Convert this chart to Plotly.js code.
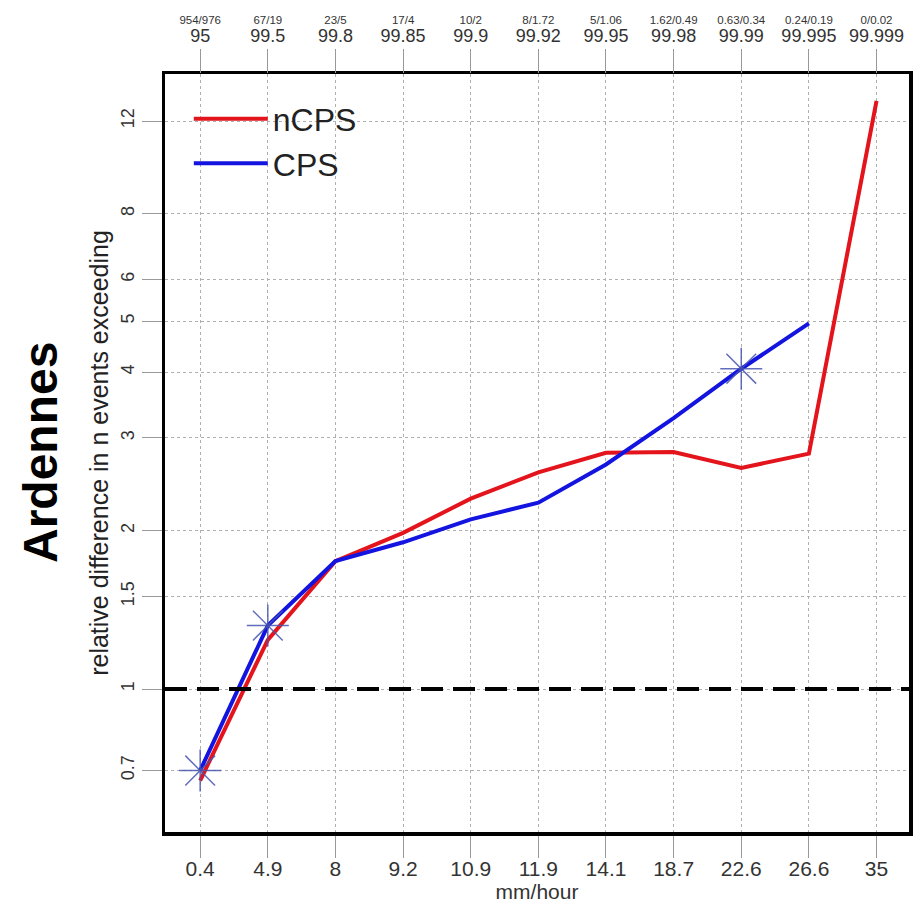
<!DOCTYPE html>
<html>
<head>
<meta charset="utf-8">
<script src="https://cdn.plot.ly/plotly-3.0.1.min.js"></script>
<style>
  html, body { margin: 0; padding: 0; background: #fff; }
  #chart { width: 914px; height: 908px; }
</style>
</head>
<body>
<div id="chart"></div>
<script>
// Bottom axis categories (mm/hour thresholds)
const mmHour = ['0.4', '4.9', '8', '9.2', '10.9', '11.9', '14.1', '18.7', '22.6', '26.6', '35'];
// Top axis: percentiles and event counts
const percentiles = ['95', '99.5', '99.8', '99.85', '99.9', '99.92', '99.95', '99.98', '99.99', '99.995', '99.999'];
const eventCounts = ['954/976', '67/19', '23/5', '17/4', '10/2', '8/1.72', '5/1.06', '1.62/0.49', '0.63/0.34', '0.24/0.19', '0/0.02'];
// Series values (relative difference)
const nCPS = [0.67, 1.24, 1.75, 1.98, 2.30, 2.58, 2.81, 2.82, 2.63, 2.80, 13.1];
const CPS  = [0.70, 1.32, 1.75, 1.90, 2.10, 2.26, 2.67, 3.27, 4.06, 4.95, null];
// Positions (category labels) marked with asterisks on the CPS line
const starCats = ['0.4', '4.9', '22.6'];
// Y tick values
const yTicks = [0.7, 1, 1.5, 2, 3, 4, 5, 6, 8, 12];
const refLevel = 1;

const FONT = 'Liberation Sans, Arial, Helvetica, sans-serif';
const idx = mmHour.map((_, i) => i);
const xRange = [-0.52, 10.48];

const starY = starCats.map(c => CPS[mmHour.indexOf(c)]);

const traces = [
  {
    x: mmHour, y: nCPS, name: 'nCPS', type: 'scatter', mode: 'lines',
    line: { color: '#e3141c', width: 4 }, xaxis: 'x', yaxis: 'y'
  },
  {
    x: mmHour, y: CPS, name: 'CPS', type: 'scatter', mode: 'lines',
    line: { color: '#1414e0', width: 4 }, xaxis: 'x', yaxis: 'y'
  },
  {
    x: starCats, y: starY, name: 'CPS markers', type: 'scatter', mode: 'markers',
    marker: { symbol: 'asterisk-open', size: 35, color: 'rgba(70,85,175,0.85)', line: { color: 'rgba(70,85,175,0.85)', width: 1.5 } },
    showlegend: false, xaxis: 'x', yaxis: 'y'
  },
  {
    x: idx, y: CPS, type: 'scatter', mode: 'lines', line: { width: 0 }, opacity: 0,
    showlegend: false, hoverinfo: 'skip', xaxis: 'x2', yaxis: 'y'
  },
  {
    x: idx, y: CPS, type: 'scatter', mode: 'lines', line: { width: 0 }, opacity: 0,
    showlegend: false, hoverinfo: 'skip', xaxis: 'x3', yaxis: 'y'
  }
];

const layout = {
  width: 914, height: 908,
  paper_bgcolor: '#fff', plot_bgcolor: '#fff',
  margin: { l: 165, r: 5, t: 74, b: 76 },
  font: { family: FONT, color: '#222' },
  showlegend: true,
  legend: {
    x: 0.032, y: 0.977, xanchor: 'left', yanchor: 'top',
    bgcolor: 'rgba(0,0,0,0)', borderwidth: 0,
    font: { family: FONT, size: 32, color: '#222' },
    itemwidth: 74, tracegroupgap: 0
  },
  xaxis: {
    type: 'category', categoryorder: 'array', categoryarray: mmHour,
    range: xRange,
    showgrid: true, gridcolor: '#b0b0b0', griddash: 'dot', gridwidth: 1,
    showline: true, linecolor: '#000', linewidth: 3.5, mirror: true,
    ticks: 'outside', ticklen: 22, tickcolor: '#999', tickwidth: 1,
    tickfont: { family: FONT, size: 21, color: '#333' },
    ticklabelstandoff: -7,
    title: { text: 'mm/hour', font: { family: FONT, size: 21, color: '#333' }, standoff: 5 },
    zeroline: false, automargin: false
  },
  xaxis2: {
    overlaying: 'x', side: 'top', anchor: 'y',
    range: xRange, tickmode: 'array', tickvals: idx, ticktext: percentiles,
    showgrid: false, showline: false, zeroline: false,
    ticks: 'outside', ticklen: 24, tickcolor: '#999', tickwidth: 1,
    tickfont: { family: FONT, size: 18, color: '#333' },
    automargin: false
  },
  xaxis3: {
    overlaying: 'x', side: 'top', anchor: 'y',
    range: xRange, tickmode: 'array', tickvals: idx, ticktext: eventCounts,
    showgrid: false, showline: false, zeroline: false,
    ticks: 'outside', ticklen: 24, tickcolor: '#999', tickwidth: 1,
    tickfont: { family: FONT, size: 11.5, color: '#333' },
    ticklabelstandoff: 20,
    automargin: false
  },
  yaxis: {
    type: 'log', range: [-0.2717, 1.1685],
    tickmode: 'array', tickvals: yTicks, ticktext: yTicks.map(String),
    tickangle: -90,
    showgrid: true, gridcolor: '#b0b0b0', griddash: 'dot', gridwidth: 1,
    showline: true, linecolor: '#000', linewidth: 3.5, mirror: true,
    ticks: 'outside', ticklen: 20, tickcolor: '#999', tickwidth: 1,
    tickfont: { family: FONT, size: 18, color: '#333' },
    title: { text: 'relative difference in n events exceeding', font: { family: FONT, size: 25, color: '#222' }, standoff: 3 },
    zeroline: false, automargin: false
  },
  shapes: [
    {
      type: 'line', xref: 'paper', yref: 'y', x0: 0, x1: 1, y0: refLevel, y1: refLevel,
      line: { color: '#000', width: 4, dash: '22px,10px' }, layer: 'above'
    }
  ],
  annotations: [
    {
      text: '<b>Ardennes</b>', xref: 'paper', yref: 'paper', x: -0.168, y: 0.50,
      xanchor: 'center', yanchor: 'middle', textangle: -90, showarrow: false,
      font: { family: FONT, size: 48, color: '#000' }
    }
  ]
};

Plotly.newPlot('chart', traces, layout, { displayModeBar: false, staticPlot: true });
</script>
</body>
</html>
